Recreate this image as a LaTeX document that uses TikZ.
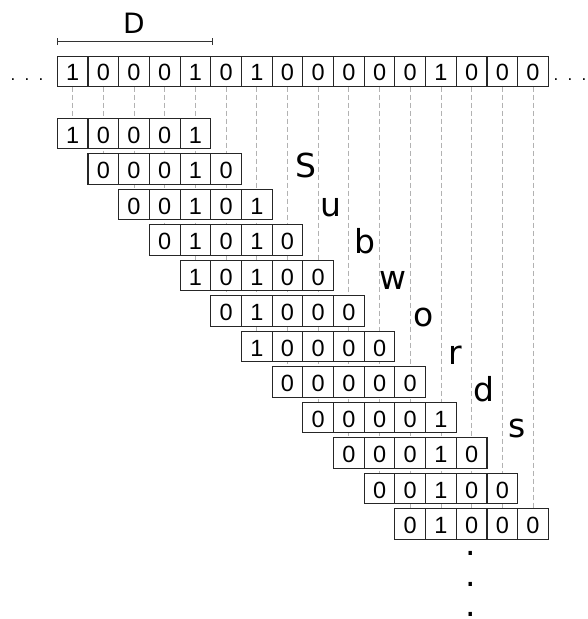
\documentclass[tikz,border=0pt]{standalone}
\usepackage{fontspec}
\usetikzlibrary{arrows.meta,backgrounds}
\newfontfamily\bitfont{Liberation Sans}
\newfontfamily\letfont{DejaVu Sans}
\tikzset{
  bit/.style={draw=black!85, fill=white, line width=1.1pt, minimum width=30.69pt, minimum height=30.4pt, inner sep=0pt, outer sep=0pt, text height=19.2pt, text depth=0pt, font=\bitfont\fontsize{23.5pt}{23.5pt}\selectfont},
  letter/.style={anchor=base, inner sep=0pt, font=\letfont\fontsize{33pt}{33pt}\selectfont},
  guide/.style={draw=black!30, line width=0.8pt, dash pattern=on 5pt off 3pt},
  span/.style={draw=black!80, line width=1pt, {Bar[width=7pt]}-{Bar[width=7pt]}}
}
\begin{document}
\begin{tikzpicture}[x=1pt,y=-1pt]
\useasboundingbox (0,0) rectangle (587,619);

\foreach \b [count=\i from 0] in {1,0,0,0,1,0,1,0,0,0,0,0,1,0,0,0}
  \node[bit] (t\i) at ({57.3+30.69*(\i+0.5)},71.3) {\b};

\foreach \row [count=\k from 0] in {{1,0,0,0,1},{0,0,0,1,0},{0,0,1,0,1},{0,1,0,1,0},{1,0,1,0,0},{0,1,0,0,0},{1,0,0,0,0},{0,0,0,0,0},{0,0,0,0,1},{0,0,0,1,0},{0,0,1,0,0},{0,1,0,0,0}}
  \foreach \b [count=\i from 0] in \row
    \node[bit] (r\k-\i) at ({57.3+30.69*(\k+\i+0.5)},{133.6+35.5*\k}) {\b};

\begin{pgfonlayer}{background}
\foreach \j in {0,...,15} {
  \pgfmathtruncatemacro\m{min(\j,11)}
  \pgfmathtruncatemacro\c{\j-\m}
  \draw[guide] (t\j.south) -- (r\m-\c.north);
}
\end{pgfonlayer}

\coordinate (dl) at (57.3,41.5);
\coordinate (dr) at (212.5,41.5);
\draw[span] (dl) -- (dr);
\node[anchor=base, inner sep=0pt, font=\letfont\fontsize{28pt}{28pt}\selectfont] (dlab) at (134,33) {D};

\node[anchor=base, inner sep=0pt, font=\bitfont\fontsize{17pt}{17pt}\selectfont] (ldots) at (27,80) {.\hspace{9.3pt}.\hspace{9.3pt}.};
\node[anchor=base, inner sep=0pt, font=\bitfont\fontsize{17pt}{17pt}\selectfont] (rdots) at (570,80) {.\hspace{9.3pt}.\hspace{9.3pt}.};

\foreach \ch/\x/\y [count=\n] in {S/306/177, u/331/216, b/365/253, w/393/289, o/424/326, r/455/364, d/484/401, s/517/437}
  \node[letter] (l\n) at (\x,\y) {\ch};

\node[letter] (v1) at (471,555.5) {.};
\node[letter] (v2) at (471,586) {.};
\node[letter] (v3) at (471,616.5) {.};
\end{tikzpicture}
\end{document}
